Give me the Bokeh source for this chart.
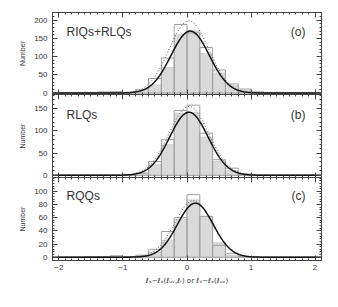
from bokeh.plotting import figure
from bokeh.layouts import column
from bokeh.models import Range1d, LinearAxis, Label, FixedTicker, CustomJSTickFormatter
from bokeh.embed import file_html
from bokeh.resources import INLINE
import numpy as np

# ---- data ----
edges = [-2.0, -1.8, -1.6, -1.4, -1.2, -1.0, -0.8, -0.6, -0.4, -0.2, 0.0,
         0.2, 0.4, 0.6, 0.8, 1.0, 1.2, 1.4, 1.6, 1.8, 2.0]

a_fill = [0, 0, 0, 2, 2, 1, 5, 22, 70, 160, 172, 108, 55, 20, 8, 3, 0, 0, 0, 0]
a_out  = [0, 0, 0, 3, 4, 2, 9, 40, 96, 188, 165, 125, 63, 25, 11, 3, 0, 0, 0, 0]
b_fill = [0, 0, 0, 0, 0, 1, 4, 24, 69, 140, 142, 86, 31, 10, 2, 0, 0, 0, 0, 0]
b_out  = [0, 0, 0, 0, 0, 1, 5, 31, 80, 146, 158, 95, 35, 16, 3, 0, 0, 0, 0, 0]
c_fill = [0, 0, 1, 1, 2, 1, 2, 8, 26, 57, 87, 62, 22, 3, 1, 0, 0, 0, 0, 0]
c_out  = [0, 0, 1, 1, 2, 1, 3, 12, 39, 60, 95, 62, 18, 6, 1, 0, 0, 0, 0, 0]

# Gaussian fit parameters (amplitude, centre, sigma)
a_fit_solid = (170, 0.05, 0.30)
a_fit_dot = (198, 0.03, 0.31)
b_fit_solid = (142, 0.03, 0.30)
b_fit_dot = (155, 0.03, 0.31)
c_fit_solid = (82, 0.13, 0.28)
c_fit_dot = (86, 0.10, 0.29)

panel_names = ["RIQs+RLQs", "RLQs", "RQQs"]
panel_tags = ["(o)", "(b)", "(c)"]
y_ticks = [[0, 50, 100, 150, 200], [0, 50, 100, 150], [0, 20, 40, 60, 80, 100]]
y_ranges = [(-4, 221), (-5, 182), (-5, 121)]
label_y = [168, 136, 93]
x_ticks = [-2, -1, 0, 1, 2]

AX = "#444444"
FONT = "Liberation Sans"
OV = 6  # overlap between stacked canvases


def style(ax, labels=True):
    ax.axis_line_color = AX
    ax.major_tick_line_color = AX
    ax.minor_tick_line_color = AX
    ax.major_tick_in = 5
    ax.major_tick_out = 0
    ax.minor_tick_in = 2
    ax.minor_tick_out = 0
    ax.major_label_text_font = FONT
    ax.major_label_text_font_size = "8px"
    ax.major_label_text_color = "#333333"
    if not labels:
        ax.formatter = CustomJSTickFormatter(code="return ''")
        ax.major_label_standoff = 0
        ax.major_label_text_font_size = "0px"


def gauss(xs, prm):
    amp, mu, sig = prm
    return amp * np.exp(-0.5 * ((xs - mu) / sig) ** 2)


fills = [a_fill, b_fill, c_fill]
outs = [a_out, b_out, c_out]
fits = [(a_fit_solid, a_fit_dot), (b_fit_solid, b_fit_dot), (c_fit_solid, c_fit_dot)]

xs = np.linspace(-2.1, 2.1, 400)
x_range = Range1d(-2.1, 2.1)
x_minor = [float(v) for v in np.round(np.arange(-2.1, 2.11, 0.1), 2)]
figs = []
for i in range(3):
    first = i == 0
    last = i == 2
    top_b = 12 if first else 0
    bot_b = 44 if last else OV
    fh = 82 if first else 83
    kw = {}
    if not first:
        kw["styles"] = {"margin-top": f"-{OV}px"}
    p = figure(output_backend="svg", toolbar_location=None,
               width=52 + 269 + 12, height=top_b + fh + bot_b,
               x_range=x_range, y_range=Range1d(*y_ranges[i]),
               min_border_left=52, min_border_right=12,
               min_border_top=top_b, min_border_bottom=bot_b,
               margin=0, **kw)
    p.grid.visible = False
    p.outline_line_color = AX
    p.background_fill_color = "white"
    p.border_fill_alpha = 0

    left = edges[:-1]
    right = edges[1:]
    p.quad(left=left, right=right, bottom=0, top=fills[i],
           fill_color="#dadada", line_color="#d2d2d2", line_width=1)
    p.quad(left=left, right=right, bottom=0, top=outs[i],
           fill_color=None, line_color="#a0a0a0", line_width=1)
    p.line(xs, gauss(xs, fits[i][1]), line_color="#555555", line_width=1,
           line_dash="1 2")
    p.line(xs, gauss(xs, fits[i][0]), line_color="#111111", line_width=1.5)

    # axes
    xa = p.xaxis[0]
    xa.ticker = FixedTicker(ticks=x_ticks, minor_ticks=x_minor)
    style(xa, labels=last)
    ya = p.yaxis[0]
    mt = y_ticks[i][1] - y_ticks[i][0]
    y_minor = [float(v) for v in np.arange(0, y_ranges[i][1], mt / 5)]
    ya.ticker = FixedTicker(ticks=y_ticks[i], minor_ticks=y_minor)
    style(ya)
    ya.axis_label = "Number"
    ya.axis_label_text_font = FONT
    ya.axis_label_text_font_size = "7px"
    ya.axis_label_text_font_style = "normal"
    ya.axis_label_text_color = "#333333"
    ya.axis_label_standoff = 5

    top = LinearAxis(ticker=FixedTicker(ticks=x_ticks, minor_ticks=x_minor))
    style(top, labels=False)
    p.add_layout(top, "above")
    rt = LinearAxis(ticker=FixedTicker(ticks=y_ticks[i], minor_ticks=y_minor))
    style(rt, labels=False)
    p.add_layout(rt, "right")

    if last:
        xa.axis_label = "ℓₓ−ℓₓ(ℓᵤᵥ,ℓᵣ) or ℓₓ−ℓₓ(ℓᵤᵥ)"
        xa.axis_label_text_font = "DejaVu Sans"
        xa.axis_label_text_font_size = "7px"
        xa.axis_label_text_font_style = "normal"
        xa.axis_label_text_color = "#333333"
        xa.axis_label_standoff = 4
        xa.major_label_standoff = 4

    p.add_layout(Label(x=-1.88, y=label_y[i], text=panel_names[i],
                       text_font=FONT, text_font_size="12px",
                       text_color="#333333", text_baseline="middle"))
    p.add_layout(Label(x=1.85, y=label_y[i], text=panel_tags[i],
                       text_font=FONT, text_font_size="12px",
                       text_color="#333333", text_baseline="middle",
                       text_align="right"))
    figs.append(p)

layout = column(*figs, spacing=0)
open("out.html", "w").write(file_html(layout, INLINE))
